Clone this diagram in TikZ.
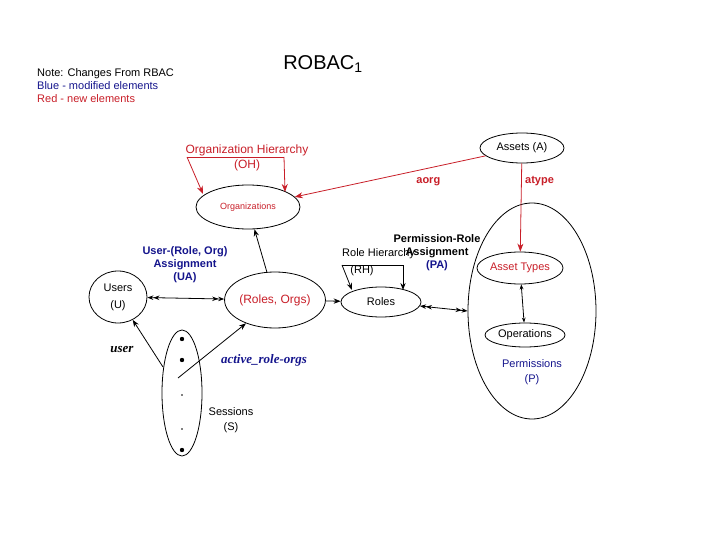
\documentclass[tikz,border=0pt]{standalone}
\usepackage{fontspec}
\setmainfont{Liberation Sans}
\newfontfamily\tms{Liberation Serif}
\usetikzlibrary{arrows.meta,shapes.geometric}
\definecolor{rd}{RGB}{200,30,40}
\definecolor{bl}{RGB}{20,20,140}
\begin{document}
\begin{tikzpicture}[x=1pt,y=-1pt,
  el/.style={draw,thick,ellipse,inner sep=0pt},
  ar/.style={thick,-{Stealth[length=7pt]}},
  rar/.style={thick,draw=rd,-{Stealth[length=8pt]}},
  t/.style={font=\fontsize{11}{13}\selectfont,align=center,inner sep=0pt}]
\useasboundingbox (0,0) rectangle (720,540);
\node[t,anchor=west,align=left] (note) at (37,86) {Note: Changes From RBAC\\\textcolor{bl}{Blue - modified elements}\\\textcolor{rd}{Red - new elements}};
\node[font=\fontsize{20}{22}\selectfont] (title) at (323,64) {ROBAC$_{\mathrm{1}}$};
\node[el,minimum width=84pt,minimum height=30pt,t] (A) at (522,148) {Assets (A)};
\node[el,minimum width=104pt,minimum height=44pt,t,font=\fontsize{9}{11}\selectfont,text=rd] (O) at (248,207) {Organizations};
\node[t,text=rd,font=\fontsize{12}{15}\selectfont] (OH) at (247,158) {Organization Hierarchy\\(OH)};
\coordinate (oh1) at (187,157); \coordinate (oh2) at (284,157);
\draw[rd,thick] (oh1) -- (oh2);
\draw[rar] (oh1) -- (203,194);
\draw[rar] (oh2) -- (285,192);
\draw[rar] (A) -- (O) node[pos=0.3,below,text=rd,font=\bfseries\fontsize{11}{13}\selectfont,yshift=-6pt] {aorg};
\node[el,minimum width=128pt,minimum height=216pt] (P) at (532,311) {};
\node[el,minimum width=86pt,minimum height=32pt,t,text=rd] (AT) at (520,268) {Asset Types};
\draw[rar] (A) -- (AT) node[pos=0.2,right,text=rd,font=\bfseries\fontsize{11}{13}\selectfont] {atype};
\node[el,minimum width=80pt,minimum height=24pt,t] (Op) at (525,335) {Operations};
\draw[thick,{Stealth[length=5pt]}-{Stealth[length=5pt]}] (AT) -- (Op);
\node[t,text=bl] (Pl) at (532,372) {Permissions\\[2pt](P)};
\node[el,minimum width=58pt,minimum height=52pt,t] (U) at (118,297) {Users\\[4pt](U)};
\node[el,minimum width=82pt,minimum height=56pt,t,text=rd,font=\fontsize{12}{14}\selectfont] (RO) at (275,300) {(Roles, Orgs)};
\node[el,minimum width=80pt,minimum height=30pt,t] (R) at (381,302) {Roles};
\draw[thick,{Stealth[length=6pt]Stealth[length=6pt]}-{Stealth[length=6pt]Stealth[length=6pt]}] (U) -- (RO);
\draw[ar] (RO) -- (O);
\draw[ar] (RO) -- (R);
\draw[thick,{Stealth[length=6pt]Stealth[length=6pt]}-{Stealth[length=6pt]Stealth[length=6pt]}] (R) -- (P.west);
\coordinate (rh1) at (342,265); \coordinate (rh2) at (403,265);
\draw[thick] (rh1) -- (rh2);
\draw[ar] (rh1) -- (352,290);
\draw[ar] (rh2) -- (403,290);
\node[t,anchor=west] (RHl) at (342,254) {Role Hierarchy};
\node[t] (RHs) at (362,271) {(RH)};
\node[t,font=\bfseries\fontsize{11}{13}\selectfont] (PA) at (437,253) {Permission-Role\\Assignment\\\textcolor{bl}{(PA)}};
\node[t,text=bl,font=\bfseries\fontsize{11}{13}\selectfont] (UA) at (185,265) {User-(Role, Org)\\Assignment\\(UA)};
\node[el,minimum width=40pt,minimum height=126pt] (S) at (182,393) {};
\foreach \y/\r [count=\i] in {339/2.2,360/2.2,395/0.9,429/0.9,450/2.2} \fill (182,\y) circle (\r) coordinate (d\i);
\node[t] (Sl) at (231,420) {Sessions\\[2pt](S)};
\coordinate (su) at (163,367); \coordinate (sa) at (178,378);
\draw[ar] (su) -- (U);
\draw[ar] (sa) -- (RO);
\node[font=\tms\bfseries\itshape\fontsize{13}{15}\selectfont] (ul) at (122,350) {user};
\node[font=\tms\bfseries\itshape\fontsize{13}{15}\selectfont,text=bl] (arl) at (264,360) {active\_role-orgs};
\end{tikzpicture}
\end{document}
